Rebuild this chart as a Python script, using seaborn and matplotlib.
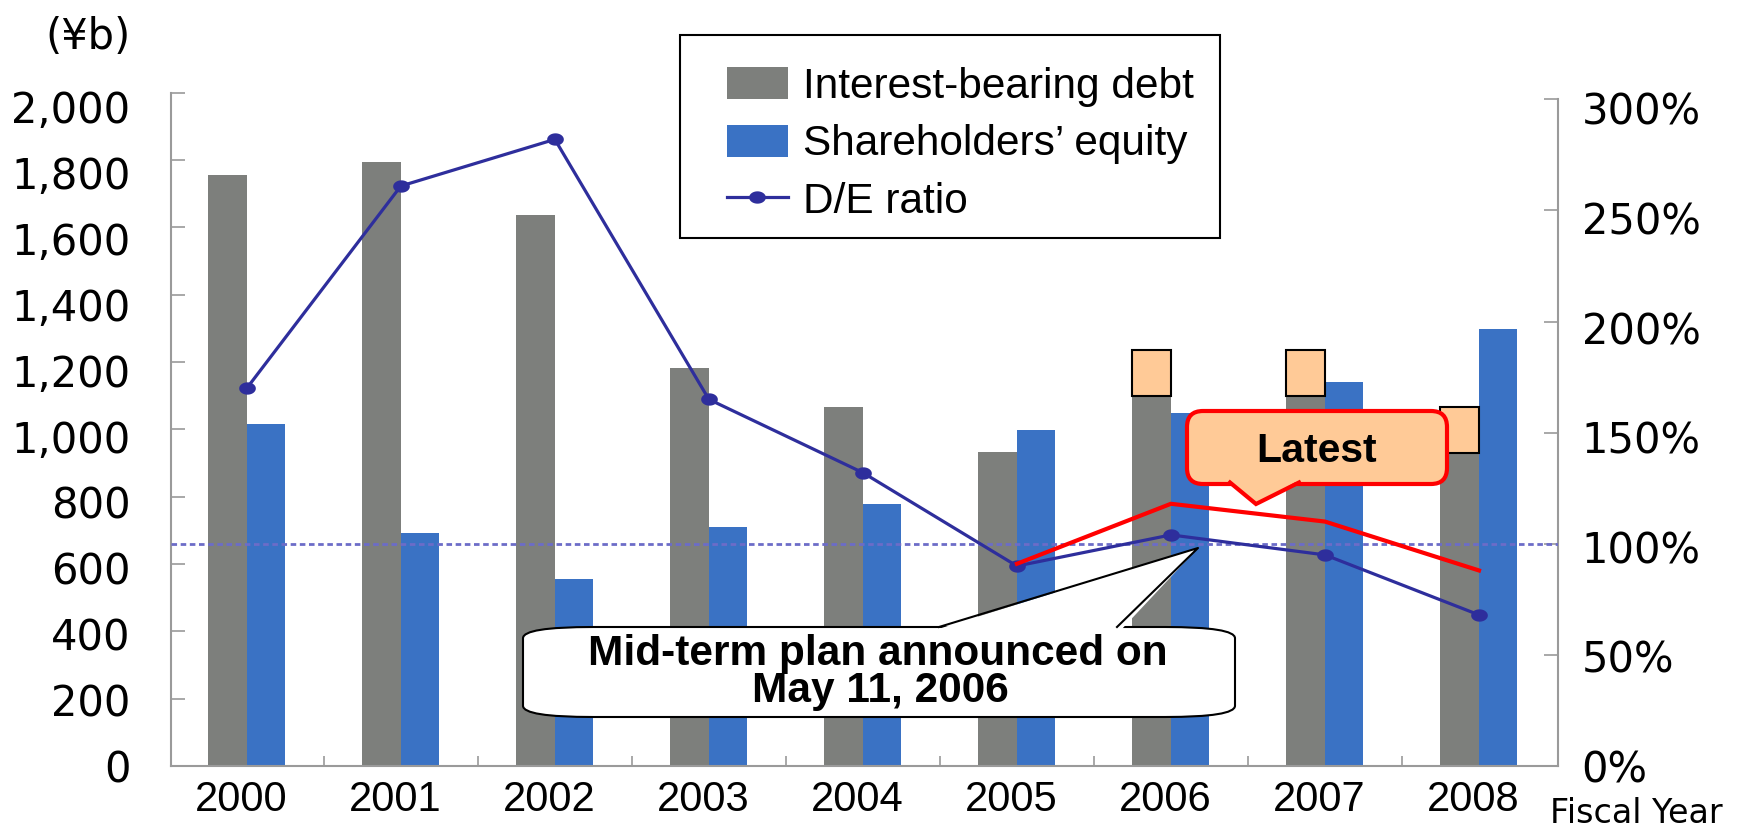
import numpy as np
import pandas as pd
import matplotlib
matplotlib.use("Agg")
import matplotlib.pyplot as plt
import matplotlib.transforms as mtransforms
from matplotlib.patches import Rectangle, FancyBboxPatch, Polygon, Patch
from matplotlib.lines import Line2D
from matplotlib.path import Path
from matplotlib.ticker import FuncFormatter
import seaborn as sns

# ---------------- data ----------------
years = ["2000", "2001", "2002", "2003", "2004", "2005", "2006", "2007", "2008"]
debt = [1757, 1793, 1638, 1181, 1065, 934, 1098, 1098, 930]          # ¥b
equity = [1016, 691, 556, 709, 777, 997, 1049, 1142, 1298]           # ¥b
de_ratio = [170, 261, 282, 165, 132, 90, 104, 95, 68]                 # %
plan_years = ["2005", "2006", "2007", "2008"]
plan_ratio = [91, 118, 110, 88]                                       # % (mid-term plan)
square_years = ["2006", "2007", "2008"]
square_height = 137
target_ratio = 100

debt_label = "Interest-bearing debt"
equity_label = "Shareholders\u2019 equity"
de_label = "D/E ratio"
left_ticks = list(range(0, 2001, 200))
right_ticks = list(range(0, 301, 50))

# ---------------- style ----------------
GRAY = "#7d7f7c"
BLUE = "#3a72c4"
DE_COL = "#2e2e9c"
DASH_COL = "#6c6cc8"
ORANGE = "#ffca97"
SPINE = "#9a9a9a"

plt.rcParams["font.family"] = ["Liberation Sans", "DejaVu Sans"]

W, H, DPI = 1737, 831, 100
fig = plt.figure(figsize=(W / DPI, H / DPI), dpi=DPI)
px = mtransforms.Affine2D().scale(1 / DPI, -1 / DPI).translate(0, H / DPI) + fig.dpi_scale_trans

ax = fig.add_axes([170.7 / W, (H - 766) / H, (1558 - 170.7) / W, (766 - 92.7) / H])

n = len(years)
df = pd.DataFrame({
    "year": years * 2,
    "series": [debt_label] * n + [equity_label] * n,
    "value": debt + equity,
})
sns.barplot(data=df, x="year", y="value", hue="series", order=years,
            hue_order=[debt_label, equity_label], palette=[GRAY, BLUE],
            width=0.5, linewidth=0, saturation=1, errorbar=None,
            legend=False, ax=ax)

for yr in square_years:
    i = years.index(yr)
    ax.add_patch(Rectangle((i - 0.25, debt[i]), 0.25, square_height,
                           facecolor=ORANGE, edgecolor="black", lw=1.5, zorder=3))

ax2 = ax.twinx()
t = np.linspace(0, 2 * np.pi, 60)
ellipse = Path(np.column_stack([np.cos(t), 0.74 * np.sin(t)]), closed=True)

ax2.axhline(target_ratio, color=DASH_COL, lw=2.0, dashes=(2.0, 1.3), zorder=4)
sns.lineplot(x=list(range(n)), y=de_ratio, ax=ax2, color=DE_COL, linewidth=2.3,
             marker=ellipse, markersize=12, markeredgewidth=0, zorder=5)
sns.lineplot(x=[years.index(y) for y in plan_years], y=plan_ratio, ax=ax2,
             color="#ff0000", linewidth=3.0, zorder=6)

ax.set_xlim(-0.494, 8.513)
ax.set_ylim(0, 2000)
ax2.set_ylim(0, 303)
for a in (ax, ax2):
    a.set_xlabel("")
    a.set_ylabel("")

# ticks
ax.set_yticks(left_ticks)
ax.yaxis.set_major_formatter(FuncFormatter(lambda v, p: f"{int(v):,}"))
ax.tick_params(axis="y", direction="in", length=10, width=1.2, color=SPINE,
               labelsize=30, pad=29, labelcolor="black")
for v, lb in zip(left_ticks, ax.get_yticklabels()):
    lb.set_fontfamily("DejaVu Sans")
    off = mtransforms.ScaledTranslation(0, -(v / 2000) * 14 / DPI, fig.dpi_scale_trans)
    lb.set_transform(lb.get_transform() + off)

ax2.set_yticks(right_ticks)
ax2.set_yticklabels([f"{v}%" for v in right_ticks])
ax2.tick_params(axis="y", direction="in", length=10, width=1.2, color=SPINE,
                labelsize=30, pad=17, labelcolor="black")
for v, lb in zip(right_ticks, ax2.get_yticklabels()):
    lb.set_fontfamily("DejaVu Sans")
    off = mtransforms.ScaledTranslation(0, -(v / 300) * 9 / DPI, fig.dpi_scale_trans)
    lb.set_transform(lb.get_transform() + off)

ax.set_xticks(range(n))
ax.set_xticklabels(years, fontsize=30)
ax.tick_params(axis="x", which="major", length=0, pad=10)
ax.set_xticks(np.arange(0.5, n - 1, 1.0), minor=True)
ax.tick_params(axis="x", which="minor", direction="in", length=7, width=1.2, color=SPINE)
shift = mtransforms.ScaledTranslation(-6 / DPI, 0, fig.dpi_scale_trans)
for lb in ax.get_xticklabels():
    lb.set_transform(lb.get_transform() + shift)

# spines
ax.spines["top"].set_visible(False)
ax.spines["right"].set_visible(False)
for s in ("left", "bottom"):
    ax.spines[s].set_color(SPINE)
    ax.spines[s].set_linewidth(1.5)
for s in ("top", "left", "bottom"):
    ax2.spines[s].set_visible(False)
ax2.spines["right"].set_color(SPINE)
ax2.spines["right"].set_linewidth(1.5)
ax2.spines["right"].set_bounds(0, 300)

# legend
handles = [Patch(facecolor=GRAY, edgecolor="none"),
           Patch(facecolor=BLUE, edgecolor="none"),
           Line2D([0], [0], color=DE_COL, lw=2.3, marker=ellipse, markersize=12, mew=0)]
leg = ax2.legend(handles, [debt_label, equity_label, de_label], loc="upper left",
                 bbox_to_anchor=(726.5, 67), bbox_transform=px, frameon=False,
                 borderpad=0, borderaxespad=0, handlelength=1.44, handleheight=0.78,
                 handletextpad=0.36, labelspacing=0.41,
                 prop={"family": "Liberation Sans", "size": 30.5})
leg.set_zorder(8)
fig.add_artist(Rectangle((680, 35), 540, 203, transform=px, facecolor="none",
                         edgecolor="black", lw=1.5))

# ---- "Latest" callout ----
ax2.add_patch(FancyBboxPatch((1187, 411), 260, 73, transform=px, clip_on=False,
                             boxstyle="round,pad=0,rounding_size=16",
                             facecolor=ORANGE, edgecolor="#ff0000", lw=3, zorder=10))
ax2.add_patch(Polygon([(1228, 479), (1256, 504), (1301, 479)], closed=True, transform=px,
                      clip_on=False, facecolor=ORANGE, edgecolor="none", zorder=11))
ax2.add_line(Line2D([1230, 1256, 1299], [482.5, 504, 482.5], transform=px, clip_on=False,
                    color="#ff0000", lw=3, zorder=12, solid_joinstyle="miter"))
fig.text(1317, 451, "Latest", transform=px, ha="center", va="center",
         fontsize=29.5, fontweight="bold", family="Liberation Sans")

# ---- mid-term plan callout ----
ax2.add_patch(FancyBboxPatch((523, 627), 712, 90, transform=px, clip_on=False,
                             boxstyle="round,pad=0,rounding_size=70", mutation_aspect=0.16,
                             facecolor="white", edgecolor="black", lw=1.5, zorder=10))
ax2.add_patch(Polygon([(935, 630), (1198, 548), (1121, 630)], closed=True, transform=px,
                      clip_on=False, facecolor="white", edgecolor="none", zorder=11))
ax2.add_line(Line2D([939, 1198, 1117], [627, 548, 627], transform=px, clip_on=False,
                    color="black", lw=1.5, zorder=12))
fig.text(877.5, 654, "Mid-term plan announced on", transform=px, ha="center", va="center",
         fontsize=30.5, fontweight="bold", family="Liberation Sans")
fig.text(880, 691, "May 11, 2006", transform=px, ha="center", va="center",
         fontsize=30.5, fontweight="bold", family="Liberation Sans")

# ---- axis captions ----
fig.text(131, 49, "(\u00a5b)", transform=px, ha="right", va="baseline",
         fontsize=30, family="DejaVu Sans")
fig.text(1550, 830, "Fiscal Year", transform=px, ha="left", va="bottom",
         fontsize=24, family="DejaVu Sans")

fig.savefig("out.png", dpi=DPI)
